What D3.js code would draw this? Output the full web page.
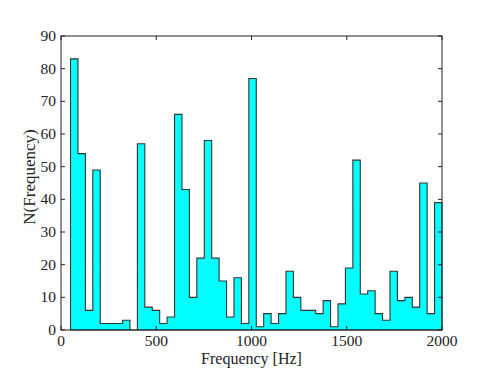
<!DOCTYPE html>
<html>
<head>
<meta charset="utf-8">
<script src="https://cdn.jsdelivr.net/npm/d3@7"></script>
<style>
  html, body { margin: 0; padding: 0; background: #fff; }
  svg text { font-family: "Liberation Serif", "DejaVu Serif", serif; fill: #222; }
</style>
</head>
<body>
<svg id="chart" width="491" height="368"></svg>
<script>
// Histogram data: 50 bins between binStart and binEnd (Hz)
const binStart = 50;
const binEnd = 2000;
const counts = [83, 54, 6, 49, 2, 2, 2, 3, 0, 57,
                7, 6, 2, 4, 66, 43, 10, 22, 58, 22,
                15, 4, 16, 2, 77, 1, 5, 2, 5, 18,
                10, 6, 6, 5, 9, 1, 8, 19, 52, 11,
                12, 5, 3, 18, 9, 10, 7, 45, 5, 39];
const xTicks = [0, 500, 1000, 1500, 2000];
const yTicks = [0, 10, 20, 30, 40, 50, 60, 70, 80, 90];
const xLabel = "Frequency [Hz]";
const yLabel = "N(Frequency)";

const svg = d3.select("#chart");
const m = { left: 61, right: 442, top: 36, bottom: 330 };

const x = d3.scaleLinear().domain([0, 2000]).range([m.left, m.right]);
const y = d3.scaleLinear().domain([0, 90]).range([m.bottom, m.top]);

const binW = (binEnd - binStart) / counts.length;

// step-filled polygon
const pts = [[binStart, 0]];
counts.forEach((c, i) => {
  const x0 = binStart + i * binW, x1 = x0 + binW;
  pts.push([x0, c]);
  pts.push([x1, c]);
});
pts.push([binEnd, 0]);

const line = d3.line().x(d => x(d[0])).y(d => y(d[1]));
svg.append("path")
  .attr("d", line(pts) + "Z")
  .attr("fill", "#00ffff")
  .attr("stroke", "#333")
  .attr("stroke-width", 1.1)
  .attr("stroke-linejoin", "miter");

// frame
svg.append("rect")
  .attr("x", m.left).attr("y", m.top)
  .attr("width", m.right - m.left).attr("height", m.bottom - m.top)
  .attr("fill", "none").attr("stroke", "#222").attr("stroke-width", 1);

const tl = 4;
const fs = 15.5;
// x ticks (bottom & top, inward)
const gx = svg.append("g");
xTicks.forEach(t => {
  gx.append("line").attr("x1", x(t)).attr("x2", x(t)).attr("y1", m.bottom).attr("y2", m.bottom - tl)
    .attr("stroke", "#222");
  gx.append("line").attr("x1", x(t)).attr("x2", x(t)).attr("y1", m.top).attr("y2", m.top + tl)
    .attr("stroke", "#222");
  gx.append("text").attr("x", x(t)).attr("y", m.bottom + 15.5)
    .attr("text-anchor", "middle").attr("font-size", fs).text(t);
});
// y ticks (left & right)
const gy = svg.append("g");
yTicks.forEach(t => {
  gy.append("line").attr("x1", m.left).attr("x2", m.left + tl).attr("y1", y(t)).attr("y2", y(t))
    .attr("stroke", "#222");
  gy.append("line").attr("x1", m.right).attr("x2", m.right - tl).attr("y1", y(t)).attr("y2", y(t))
    .attr("stroke", "#222");
  gy.append("text").attr("x", m.left - 5).attr("y", y(t) + 5)
    .attr("text-anchor", "end").attr("font-size", fs).text(t);
});

svg.append("text").attr("x", (m.left + m.right) / 2).attr("y", 364)
  .attr("text-anchor", "middle").attr("font-size", 16).text(xLabel);
svg.append("text")
  .attr("transform", `translate(35,${(m.top + m.bottom) / 2 - 6}) rotate(-90)`)
  .attr("text-anchor", "middle").attr("font-size", 17).text(yLabel);
</script>
</body>
</html>
